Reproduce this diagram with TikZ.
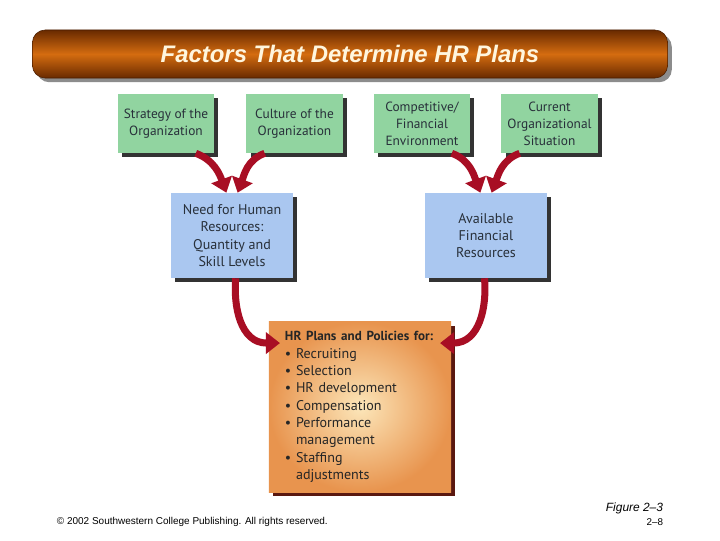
\documentclass[tikz,border=0pt]{standalone}
\usepackage{fontspec}
\setmainfont{Liberation Sans}
\newfontfamily\boxfont{PT Sans}
\usetikzlibrary{arrows.meta,shadows}

\definecolor{boxgreen}{RGB}{145,212,160}
\definecolor{boxblue}{RGB}{170,199,240}
\definecolor{arrowred}{RGB}{168,14,36}
\definecolor{bannerdark}{RGB}{105,42,0}
\definecolor{bannerlight}{RGB}{212,108,16}
\definecolor{plansinner}{RGB}{252,230,185}
\definecolor{plansouter}{RGB}{232,148,78}
\definecolor{boxtext}{RGB}{40,48,58}

\tikzset{
	factor/.style={fill=boxgreen, text=boxtext, minimum width=2.4cm, minimum height=1.475cm,
		align=center, inner sep=2pt, font=\boxfont\fontsize{9.5}{12}\selectfont,
		drop shadow={shadow xshift=3pt, shadow yshift=-3pt, fill=black!80, opacity=1}},
	resource/.style={fill=boxblue, text=boxtext, minimum width=3.05cm, minimum height=2.125cm,
		align=center, inner sep=2pt, font=\boxfont\fontsize{10}{12.3}\selectfont,
		drop shadow={shadow xshift=3pt, shadow yshift=-3pt, fill=black!80, opacity=1}},
	bigarrow/.style={arrowred, line width=5pt, -{Triangle[width=15pt,length=10pt]}},
}

\begin{document}
\begin{tikzpicture}[x=0.025cm, y=-0.025cm]
	\useasboundingbox[fill=white] (0, 0) rectangle (720, 540);

	% banner
	\node[rounded corners=9pt, draw=bannerdark!70!black, thin, minimum width=15.875cm, minimum height=1.2cm,
		top color=bannerdark, bottom color=bannerdark, middle color=bannerlight,
		drop shadow={shadow xshift=3pt, shadow yshift=-3pt, fill=black!45, opacity=1},
		text={rgb,255:red,255;green,246;blue,222}, font=\bfseries\itshape\fontsize{17}{20}\selectfont]
		(title) at (350, 54) {Factors That Determine HR Plans};

	% top row
	\node[factor] (strat)   at (166, 123.5)   {Strategy of the\\Organization};
	\node[factor] (culture) at (294.5, 123.5) {Culture of the\\Organization};
	\node[factor] (compet)  at (422, 123.5)   {Competitive/\\Financial\\Environment};
	\node[factor] (current) at (549.5, 123.5) {Current\\Organizational\\Situation};

	% middle row
	\node[resource] (need)  at (232, 235.5) {Need for Human\\Resources:\\Quantity and\\Skill Levels};
	\node[resource] (avail) at (486, 235.5) {Available\\Financial\\Resources};

	% plans box
	\node[shading=radial, inner color=plansinner, outer color=plansouter,
		minimum width=4.55cm, minimum height=4.25cm, text width=3.75cm, inner xsep=0.4cm,
		align=left, text=black!85, font=\boxfont\fontsize{10}{12.3}\selectfont,
		drop shadow={shadow xshift=3pt, shadow yshift=-3pt, fill={rgb,255:red,90;green,24;blue,16}, opacity=1}]
		(plans) at (360, 407)
		{{\bfseries\fontsize{9.3}{12.3}\selectfont HR Plans and Policies for:}\\
		\textbullet\ Recruiting\\
		\textbullet\ Selection\\
		\textbullet\ HR development\\
		\textbullet\ Compensation\\
		\textbullet\ Performance\\
		\hphantom{\textbullet\ }management\\
		\textbullet\ Staffing\\
		\hphantom{\textbullet\ }adjustments};

	% arrows
	\draw[bigarrow] (strat.-45)   to[out=-20, in=110] ([xshift=-4pt]need.north);
	\draw[bigarrow] (culture.-135) to[out=-160, in=70] ([xshift=4pt]need.north);
	\draw[bigarrow] (compet.-45)  to[out=-20, in=110] ([xshift=-4pt]avail.north);
	\draw[bigarrow] (current.-135) to[out=-160, in=70] ([xshift=4pt]avail.north);

	\draw[bigarrow, shorten >=-8pt] (need.-85)  to[out=-95, in=180] (plans.145);
	\draw[bigarrow, shorten >=-8pt] (avail.-92) to[out=-85, in=0] (plans.35);

	% footer
	\node[anchor=west, font=\fontsize{7.1}{8}\selectfont] (copy) at (52, 522)
		{© 2002 Southwestern College Publishing. All rights reserved.};
	\node[anchor=east, font=\itshape\fontsize{8.5}{10}\selectfont] (fig) at (668, 508) {Figure 2–3};
	\node[anchor=east, font=\fontsize{7}{8}\selectfont] (page) at (668, 522) {2–8};
\end{tikzpicture}
\end{document}
